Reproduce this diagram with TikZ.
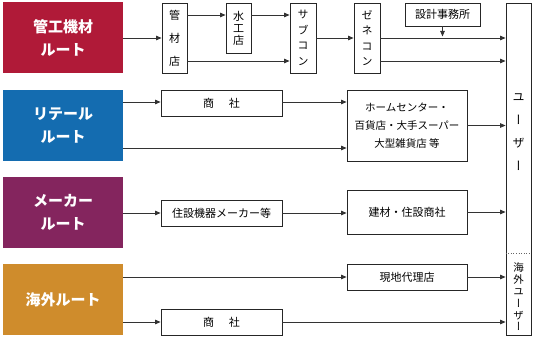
\documentclass[tikz,border=0pt]{standalone}
\usepackage{fontspec}
\setmainfont{Noto Sans CJK JP}
\newfontfamily\jpvert[RawFeature=+vert]{Noto Sans CJK JP}
\usetikzlibrary{arrows.meta}

\definecolor{kanred}{RGB}{176,26,56}
\definecolor{retailblue}{RGB}{20,108,176}
\definecolor{makerpurple}{RGB}{132,37,94}
\definecolor{kaigaiorange}{RGB}{207,140,44}

\begin{document}
\begin{tikzpicture}[x=1pt, y=-1pt,
    route/.style={fill=#1, draw=none, minimum width=120pt, minimum height=71pt,
      inner sep=0pt, text=white, align=center,
      font=\bfseries\fontsize{15}{23}\selectfont},
    box/.style={draw=black!85, line width=0.8pt, fill=white, inner sep=0pt,
      align=center, font=\fontsize{11}{14}\selectfont},
    arr/.style={draw=black!80, line width=0.8pt,
      -{Triangle[length=5.5pt, width=4.5pt]}},
    line/.style={draw=black!80, line width=0.8pt}]
  \useasboundingbox (0,0) rectangle (533,337);
  % arrow levels
  \foreach \n/\y in {lvA/15, lvC/61, lvD/102, lvE/148, lvH/277, lvI/322, lvJ/253}
    \coordinate (\n) at (0,\y);
  % the four routes
  \node[route=kanred]       (kanko)  at (63,38)    {管工機材\\ルート};
  \node[route=retailblue]   (retail) at (63,125.5) {リテール\\ルート};
  \node[route=makerpurple]  (maker)  at (63,212.5) {メーカー\\ルート};
  \node[route=kaigaiorange] (kaigai) at (63,299.5) {海外ルート};
  % users
  \node[box, minimum width=25pt, minimum height=332pt] (user) at (518.5,169) {};
  \draw[black!60, line width=0.6pt, dotted] (user.west |- lvJ) -- (user.east |- lvJ);
  \node[font=\jpvert\fontsize{12}{23}\selectfont, align=center, inner sep=0pt]
    (userlab) at (518.5,132) {ユ\\ー\\ザ\\ー};
  \node[font=\jpvert\fontsize{10.5}{11.8}\selectfont, align=center, inner sep=0pt]
    (kaigaiuser) at (518.5,297) {海\\外\\ユ\\ー\\ザ\\ー};
  % pipe route boxes
  \node[box, minimum width=25pt, minimum height=70pt, font=\fontsize{11}{23}\selectfont]
    (kanzai) at (174.5,38) {管\\材\\店};
  \node[box, minimum width=25pt, minimum height=50pt, font=\fontsize{11}{12}\selectfont]
    (suiko) at (238.5,28) {水\\工\\店};
  \node[box, minimum width=26pt, minimum height=70pt, font=\jpvert\fontsize{11}{15.5}\selectfont]
    (sub) at (303,38) {サ\\ブ\\コ\\ン};
  \node[box, minimum width=26pt, minimum height=70pt, font=\jpvert\fontsize{11}{15.5}\selectfont]
    (gene) at (367,38) {ゼ\\ネ\\コ\\ン};
  \node[box, minimum width=75pt, minimum height=23pt] (sekkei) at (442.5,14.5) {設計事務所};
  % retail, maker and overseas boxes
  \node[box, minimum width=121pt, minimum height=26pt] (shoshaA) at (221.5,103) {商\hspace{15pt}社};
  \node[box, minimum width=120pt, minimum height=71pt, font=\fontsize{10.5}{18}\selectfont]
    (home) at (407,125.5) {ホームセンター・\\百貨店・大手スーパー\\大型雑貨店 等};
  \node[box, minimum width=121pt, minimum height=26pt] (jyusetsu) at (221.5,213) {住設機器メーカー等};
  \node[box, minimum width=120pt, minimum height=44pt] (kenzai) at (407,212) {建材・住設商社};
  \node[box, minimum width=120pt, minimum height=26pt] (genchi) at (407,277) {現地代理店};
  \node[box, minimum width=121pt, minimum height=26pt] (shoshaB) at (221.5,322) {商\hspace{15pt}社};
  % pipe route connectors
  \draw[arr] (kanko.east |- kanzai) -- (kanzai.west);
  \draw[arr] (kanzai.east |- lvA) -- (suiko.west |- lvA);
  \draw[arr] (suiko.east |- lvA) -- (sub.west |- lvA);
  \draw[arr] (kanzai.east |- lvC) -- (sub.west |- lvC);
  \draw[arr] (sub.east) -- (gene.west);
  \draw[arr] (gene.east) -- (gene.east -| user.west);
  \draw[arr] (gene.east |- lvC) -- (user.west |- lvC);
  \draw[arr, shorten >=1.5pt] (sekkei.south) -- (sekkei.south |- gene.east);
  % retail connectors
  \draw[arr] (retail.east |- lvD) -- (shoshaA.west |- lvD);
  \draw[arr] (shoshaA.east |- lvD) -- (home.west |- lvD);
  \draw[arr] (retail.east |- lvE) -- (home.west |- lvE);
  \draw[arr] (home.east) -- (home.east -| user.west);
  % maker connectors
  \draw[arr] (maker.east |- jyusetsu) -- (jyusetsu.west);
  \draw[arr] (jyusetsu.east) -- (jyusetsu.east -| kenzai.west);
  \draw[arr] (kenzai.east) -- (kenzai.east -| user.west);
  % overseas connectors
  \draw[arr] (kaigai.east |- lvH) -- (genchi.west |- lvH);
  \draw[arr] (genchi.east) -- (genchi.east -| user.west);
  \draw[arr] (kaigai.east |- lvI) -- (shoshaB.west |- lvI);
  \draw[arr] (shoshaB.east) -- (shoshaB.east -| user.west);
\end{tikzpicture}
\end{document}
